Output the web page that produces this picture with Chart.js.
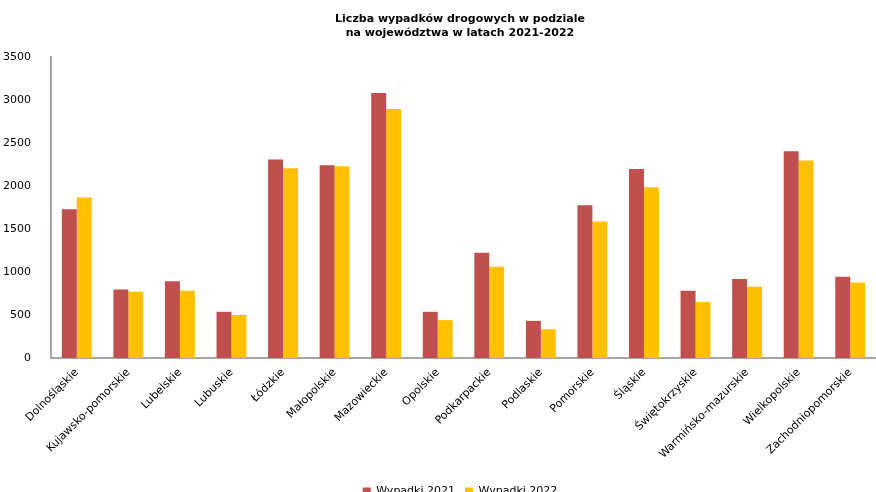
<!DOCTYPE html>
<html>
<head>
<meta charset="utf-8">
<script src="https://cdn.jsdelivr.net/npm/chart.js@4"></script>
<style>
  html, body { margin: 0; padding: 0; background: #fff; overflow: hidden; }
  #wrap { width: 876px; height: 492px; overflow: hidden; }
</style>
</head>
<body>
<div id="wrap"><canvas id="bar-chart" width="920" height="507"></canvas></div>
<script>
let labels = ["Dolnośląskie", "Kujawsko-pomorskie", "Lubelskie", "Lubuskie", "Łódzkie", "Małopolskie",
  "Mazowieckie", "Opolskie", "Podkarpackie", "Podlaskie", "Pomorskie", "Śląskie",
  "Świętokrzyskie", "Warmińsko-mazurskie", "Wielkopolskie", "Zachodniopomorskie"];
let wypadki2021 = [1730, 797, 893, 537, 2307, 2240, 3080, 537, 1225, 432, 1775, 2198, 782, 918, 2404, 945];
let wypadki2022 = [1867, 770, 782, 500, 2205, 2228, 2894, 440, 1062, 335, 1587, 1984, 650, 829, 2295, 879];
let title = ["Liczba wypadków drogowych w podziale", "na województwa w latach 2021-2022"];

Chart.defaults.font.family = "'DejaVu Sans', Verdana, sans-serif";
Chart.defaults.font.size = 11;
Chart.defaults.color = "#000";

new Chart(document.getElementById("bar-chart"), {
  type: "bar",
  data: {
    labels: labels,
    datasets: [
      {
        label: "Wypadki 2021",
        backgroundColor: "#C0504D",
        data: wypadki2021,
      },
      {
        label: "Wypadki 2022",
        backgroundColor: "#FFC000",
        data: wypadki2022,
      },
    ],
  },
  options: {
    responsive: false,
    animation: false,
    datasets: {
      bar: { categoryPercentage: 0.58, barPercentage: 1 },
    },
    plugins: {
      title: {
        display: true,
        text: title,
        color: "#000",
        font: { weight: "bold", size: 11, lineHeight: 1.27 },
        padding: { top: 12, bottom: 17 },
      },
      legend: {
        position: "bottom",
        labels: {
          boxWidth: 8,
          boxHeight: 8,
          padding: 10,
          color: "#000",
        },
      },
      tooltip: { enabled: false },
    },
    scales: {
      x: {
        grid: { display: false },
        border: { color: "#A6A6A6", width: 2 },
        ticks: { minRotation: 45, maxRotation: 45, autoSkip: false, color: "#000", padding: 0 },
        afterFit: (scale) => { scale.height = 118; },
      },
      y: {
        min: 0,
        max: 3500,
        grid: { display: false },
        border: { color: "#A6A6A6", width: 2 },
        ticks: { stepSize: 500, color: "#000", padding: 12, callback: (v) => String(v) },
        afterFit: (scale) => { scale.width = 51; },
      },
      // empty space on the right, so title and legend sit where the original has them
      yRight: {
        position: "right",
        min: 0,
        max: 3500,
        grid: { display: false },
        border: { display: false },
        ticks: { display: false },
        afterFit: (scale) => { scale.width = 44; },
      },
    },
  },
});
</script>
</body>
</html>
